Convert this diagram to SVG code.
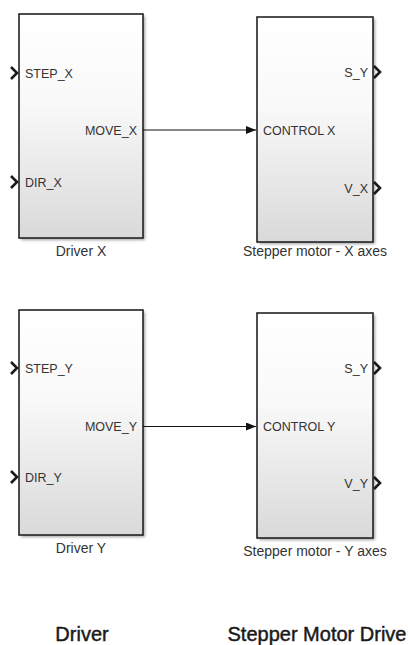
<svg xmlns="http://www.w3.org/2000/svg" width="408" height="645" viewBox="0 0 408 645">
<defs>
<linearGradient id="blk" x1="0" y1="0" x2="0" y2="1">
<stop offset="0" stop-color="#ffffff"/>
<stop offset="0.4" stop-color="#f9f9f9"/>
<stop offset="1" stop-color="#d9d9d9"/>
</linearGradient>
<filter id="sh" x="-10%" y="-10%" width="130%" height="130%">
<feGaussianBlur stdDeviation="1.5"/>
</filter>
<marker id="arr" markerWidth="10" markerHeight="8" refX="10" refY="4" orient="auto" markerUnits="userSpaceOnUse">
<path d="M0,0 L10,4 L0,8 Z" fill="#111"/>
</marker>
</defs>
<style>
.shadow{fill:#777;opacity:0.7;filter:url(#sh)}
.box{fill:url(#blk);stroke:#222;stroke-width:1.6}
.port{font-family:"Liberation Sans",Arial,sans-serif;font-size:12.5px;fill:#333}
.name{font-family:"Liberation Sans",Arial,sans-serif;font-size:14px;fill:#333;text-anchor:middle}
.title{font-family:"Liberation Sans",Arial,sans-serif;font-size:20px;fill:#1a1a1a;stroke:#1a1a1a;stroke-width:0.45;text-anchor:middle}
.chev{fill:none;stroke:#1a1a1a;stroke-width:2.6;stroke-linejoin:miter}
.wire{stroke:#111;stroke-width:1.2;fill:none}
</style>
<rect width="408" height="645" fill="#ffffff"/>

<g id="driver-x">
<rect class="shadow" x="21" y="16" width="124" height="224"/>
<rect class="box" x="19" y="14" width="124" height="224"/>
<path class="chev" d="M11,67 L17,73 L11,79"/>
<path class="chev" d="M11,176 L17,182 L11,188"/>
<text class="port" x="25" y="77.5">STEP_X</text>
<text class="port" x="25" y="186.5">DIR_X</text>
<text class="port" x="137" y="134.5" text-anchor="end">MOVE_X</text>
<text class="name" x="81" y="256">Driver X</text>
</g>

<g id="stepper-x">
<rect class="shadow" x="259" y="19" width="116" height="225"/>
<rect class="box" x="257" y="17" width="116" height="225"/>
<path class="chev" d="M374,66 L380,72 L374,78"/>
<path class="chev" d="M374,182 L380,188 L374,194"/>
<text class="port" x="263" y="134.5">CONTROL X</text>
<text class="port" x="368" y="76.5" text-anchor="end">S_Y</text>
<text class="port" x="368" y="192.5" text-anchor="end">V_X</text>
<text class="name" x="315" y="256">Stepper motor - X axes</text>
</g>

<g id="driver-y">
<rect class="shadow" x="21" y="312" width="124" height="225"/>
<rect class="box" x="19" y="310" width="124" height="225"/>
<path class="chev" d="M11,362 L17,368 L11,374"/>
<path class="chev" d="M11,471 L17,477 L11,483"/>
<text class="port" x="25" y="372.5">STEP_Y</text>
<text class="port" x="25" y="481.5">DIR_Y</text>
<text class="port" x="137" y="431" text-anchor="end">MOVE_Y</text>
<text class="name" x="81" y="553">Driver Y</text>
</g>

<g id="stepper-y">
<rect class="shadow" x="259" y="315" width="116" height="225"/>
<rect class="box" x="257" y="313" width="116" height="225"/>
<path class="chev" d="M374,362 L380,368 L374,374"/>
<path class="chev" d="M374,477 L380,483 L374,489"/>
<text class="port" x="263" y="430.5">CONTROL Y</text>
<text class="port" x="368" y="372.5" text-anchor="end">S_Y</text>
<text class="port" x="368" y="487.5" text-anchor="end">V_Y</text>
<text class="name" x="315" y="556">Stepper motor - Y axes</text>
</g>

<g id="connectors">
<path class="wire" d="M143,130 L256,130" marker-end="url(#arr)"/>
<path class="wire" d="M143,426.5 L256,426.5" marker-end="url(#arr)"/>
</g>

<g id="titles">
<text class="title" x="82" y="641">Driver</text>
<text class="title" x="317" y="641">Stepper Motor Drive</text>
</g>
</svg>
